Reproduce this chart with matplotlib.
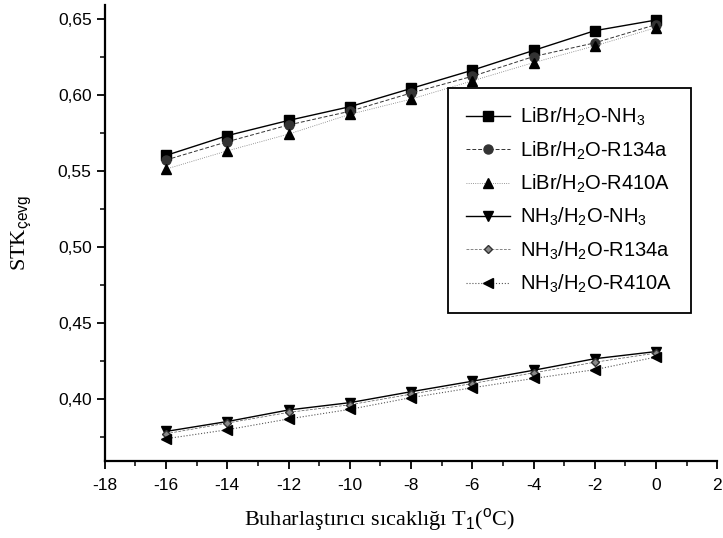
import matplotlib.pyplot as plt
from matplotlib.ticker import MultipleLocator, FuncFormatter

t1 = [-16, -14, -12, -10, -8, -6, -4, -2, 0]

libr_nh3 = [0.560, 0.573, 0.583, 0.592, 0.604, 0.616, 0.629, 0.642, 0.649]
libr_r134a = [0.557, 0.569, 0.580, 0.589, 0.601, 0.612, 0.625, 0.634, 0.646]
libr_r410a = [0.551, 0.563, 0.574, 0.587, 0.597, 0.609, 0.621, 0.632, 0.644]
nh3_nh3 = [0.3785, 0.385, 0.3926, 0.3974, 0.4046, 0.4115, 0.4187, 0.4263, 0.431]
nh3_r134a = [0.377, 0.384, 0.391, 0.396, 0.403, 0.410, 0.417, 0.424, 0.430]
nh3_r410a = [0.3737, 0.3796, 0.3867, 0.393, 0.4007, 0.4072, 0.4133, 0.4191, 0.4274]

labels = ["LiBr/H$_2$O-NH$_3$", "LiBr/H$_2$O-R134a", "LiBr/H$_2$O-R410A",
          "NH$_3$/H$_2$O-NH$_3$", "NH$_3$/H$_2$O-R134a", "NH$_3$/H$_2$O-R410A"]

plt.rcParams['font.family'] = ['Liberation Sans', 'DejaVu Sans']
plt.rcParams['mathtext.fontset'] = 'custom'
plt.rcParams['mathtext.rm'] = 'Liberation Sans'
plt.rcParams['axes.unicode_minus'] = False

fig = plt.figure(figsize=(7.23, 5.38), dpi=100)
ax = fig.add_axes([0.145, 0.143, 0.847, 0.848])

ax.plot(t1, libr_nh3, color='black', ls='-', lw=1.0, marker='s', ms=6.5, label=labels[0])
ax.plot(t1, libr_r134a, color='#333333', ls='--', lw=0.7, dashes=(4, 2), marker='o', ms=6.5, label=labels[1])
ax.plot(t1, libr_r410a, color='#777777', ls=':', lw=0.6, marker='^', ms=6.5, mfc='black', mec='black', label=labels[2])
ax.plot(t1, nh3_nh3, color='black', ls='-', lw=1.0, marker='v', ms=6.5, label=labels[3])
ax.plot(t1, nh3_r134a, color='#555555', ls='--', lw=0.5, dashes=(4, 2), marker='D', ms=4.5,
        mfc='#888888', mec='#333333', label=labels[4])
ax.plot(t1, nh3_r410a, color='#555555', ls=':', lw=0.8, marker='<', ms=6.5, mfc='black', mec='black', label=labels[5])

ax.set_xlim(-18, 2)
ax.set_ylim(0.359, 0.659)
ax.xaxis.set_major_locator(MultipleLocator(2))
ax.xaxis.set_minor_locator(MultipleLocator(1))
ax.yaxis.set_major_locator(MultipleLocator(0.05))
ax.yaxis.set_minor_locator(MultipleLocator(0.025))
ax.yaxis.set_major_formatter(FuncFormatter(lambda v, p: f"{v:.2f}".replace('.', ',')))
ax.tick_params(which='major', direction='out', length=6, width=1.3, labelsize=12.5)
ax.tick_params(axis='x', which='major', pad=6)
ax.tick_params(which='minor', direction='out', length=3.5, width=1.1)

for side in ['top', 'right']:
    ax.spines[side].set_visible(False)
for side in ['left', 'bottom']:
    ax.spines[side].set_linewidth(1.6)

ax.set_xlabel("Buharlaştırıcı sıcaklığı T$_1$($^\\mathrm{o}$C)", family='Liberation Serif', fontsize=16)
ax.xaxis.set_label_coords(0.448, -0.098)
ax.set_ylabel("STK$_{\\mathrm{çevg}}$", family='Liberation Serif', fontsize=16, labelpad=17)

leg = ax.legend(loc='upper left', bbox_to_anchor=(0.560, 0.818), fontsize=14.5, frameon=True,
                fancybox=False, edgecolor='black', framealpha=1.0, handlelength=2.2,
                handletextpad=0.5, borderpad=0.9, labelspacing=0.55, borderaxespad=0)
leg.get_frame().set_linewidth(1.3)

fig.savefig("out.png", dpi=100)
